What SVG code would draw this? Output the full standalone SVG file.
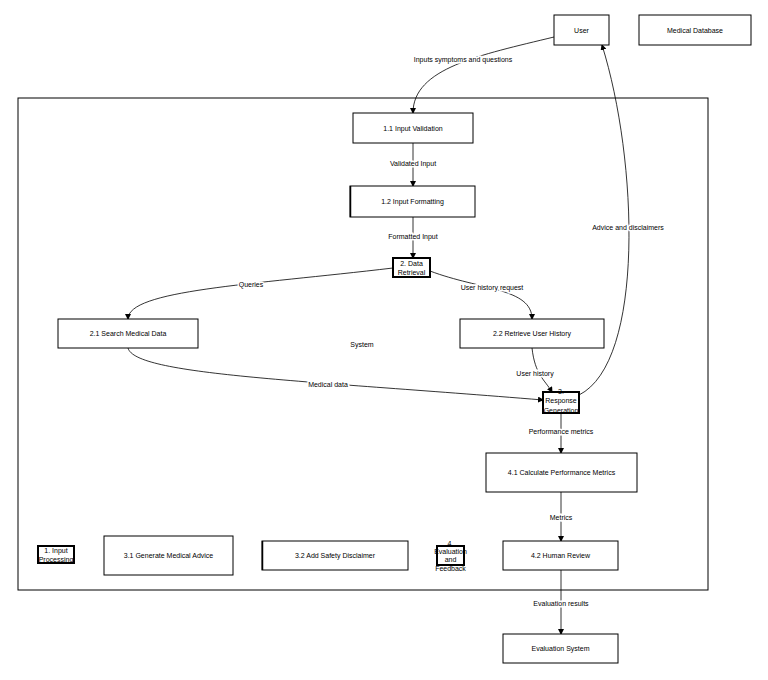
<svg xmlns="http://www.w3.org/2000/svg" width="768" height="680" viewBox="0 0 768 680">
<defs>
<marker id="ah" markerWidth="6" markerHeight="6" refX="5" refY="3" orient="auto" markerUnits="userSpaceOnUse">
<path d="M0,0 L6,3 L0,6 Z" fill="#000"/>
</marker>
<style>
text{font-family:"Liberation Sans",Arial,sans-serif;font-size:7px;fill:#000;text-anchor:middle;dominant-baseline:central}
.box{fill:#fff;stroke:#000;stroke-width:1}
.grp{fill:#fff;stroke:#000;stroke-width:2}
.edge{fill:none;stroke:#000;stroke-width:0.8;marker-end:url(#ah)}
.lbl{stroke:#fff;stroke-width:3;paint-order:stroke}
</style>
</defs>
<rect width="768" height="680" fill="#fff"/>
<g id="system">
<rect x="18" y="98" width="690" height="492" fill="none" stroke="#000" stroke-width="1"/>
<text x="362" y="344">System</text>
</g>
<g id="connectors">
<path class="edge" d="M554,37 C480,55 413,68 413,113"/>
<path class="edge" d="M413,143 L413,186"/>
<path class="edge" d="M413,217 L413,258"/>
<path class="edge" d="M393,268 C250,285 128,290 128,319"/>
<path class="edge" d="M430,271 C480,290 532,288 532,319"/>
<path class="edge" d="M128,348 C135,375 300,380 543,400"/>
<path class="edge" d="M532,348 C535,375 545,380 552,392"/>
<path class="edge" d="M579,395 C645,362 638,160 602,45"/>
<path class="edge" d="M561,413 L561,453"/>
<path class="edge" d="M561,492 L561,541"/>
<path class="edge" d="M561,570 L561,634"/>
<text class="lbl" x="463" y="59">Inputs symptoms and questions</text>
<text class="lbl" x="413" y="163">Validated Input</text>
<text class="lbl" x="413" y="236">Formatted Input</text>
<text class="lbl" x="251" y="284">Queries</text>
<text class="lbl" x="492" y="287">User history request</text>
<text class="lbl" x="328" y="384">Medical data</text>
<text class="lbl" x="535" y="373">User history</text>
<text class="lbl" x="628" y="227">Advice and disclaimers</text>
<text class="lbl" x="561" y="431">Performance metrics</text>
<text class="lbl" x="561" y="517">Metrics</text>
<text class="lbl" x="561" y="603">Evaluation results</text>
</g>
<g id="user"><rect class="box" x="554" y="15" width="55" height="30"/><text x="581.5" y="30">User</text></g>
<g id="medical-database"><rect class="box" x="639" y="15" width="112" height="30"/><text x="695" y="30">Medical Database</text></g>
<g id="n1-1"><rect class="box" x="353" y="113" width="120" height="30"/><text x="413" y="128">1.1 Input Validation</text></g>
<g id="n1-2"><rect class="box" x="350" y="186" width="125" height="31"/><line x1="350.5" y1="186" x2="350.5" y2="217" stroke="#000" stroke-width="1.5"/><text x="412.5" y="201.5">1.2 Input Formatting</text></g>
<g id="n2"><rect class="grp" x="393" y="258" width="37" height="19"/><text x="411.5" y="263">2. Data</text><text x="411.5" y="272">Retrieval</text></g>
<g id="n2-1"><rect class="box" x="58" y="319" width="140" height="29"/><text x="128" y="333.5">2.1 Search Medical Data</text></g>
<g id="n2-2"><rect class="box" x="460" y="319" width="144" height="29"/><text x="532" y="333.5">2.2 Retrieve User History</text></g>
<g id="n3"><rect class="grp" x="543" y="392" width="36" height="21"/><text x="561" y="391">3.</text><text x="561" y="400.5">Response</text><text x="561" y="410">Generation</text></g>
<g id="n4-1"><rect class="box" x="486" y="453" width="151" height="39"/><text x="561.5" y="472.5">4.1 Calculate Performance Metrics</text></g>
<g id="n4-2"><rect class="box" x="503" y="541" width="115" height="29"/><text x="560.5" y="555.5">4.2 Human Review</text></g>
<g id="evaluation-system"><rect class="box" x="503" y="634" width="115" height="29"/><text x="560.5" y="648.5">Evaluation System</text></g>
<g id="n1"><rect class="grp" x="38" y="546" width="36" height="17"/><text x="56" y="550.5">1. Input</text><text x="56" y="559">Processing</text></g>
<g id="n3-1"><rect class="box" x="104" y="536" width="129" height="39"/><text x="168.5" y="555.5">3.1 Generate Medical Advice</text></g>
<g id="n3-2"><rect class="box" x="262" y="541" width="146" height="29"/><line x1="262.5" y1="541" x2="262.5" y2="570" stroke="#000" stroke-width="1.5"/><text x="335" y="555.5">3.2 Add Safety Disclaimer</text></g>
<g id="n4"><rect class="grp" x="437" y="546" width="27" height="19"/><text x="450.5" y="543">4.</text><text x="450.5" y="551">Evaluation</text><text x="450.5" y="559.5">and</text><text x="450.5" y="568">Feedback</text></g>
</svg>
